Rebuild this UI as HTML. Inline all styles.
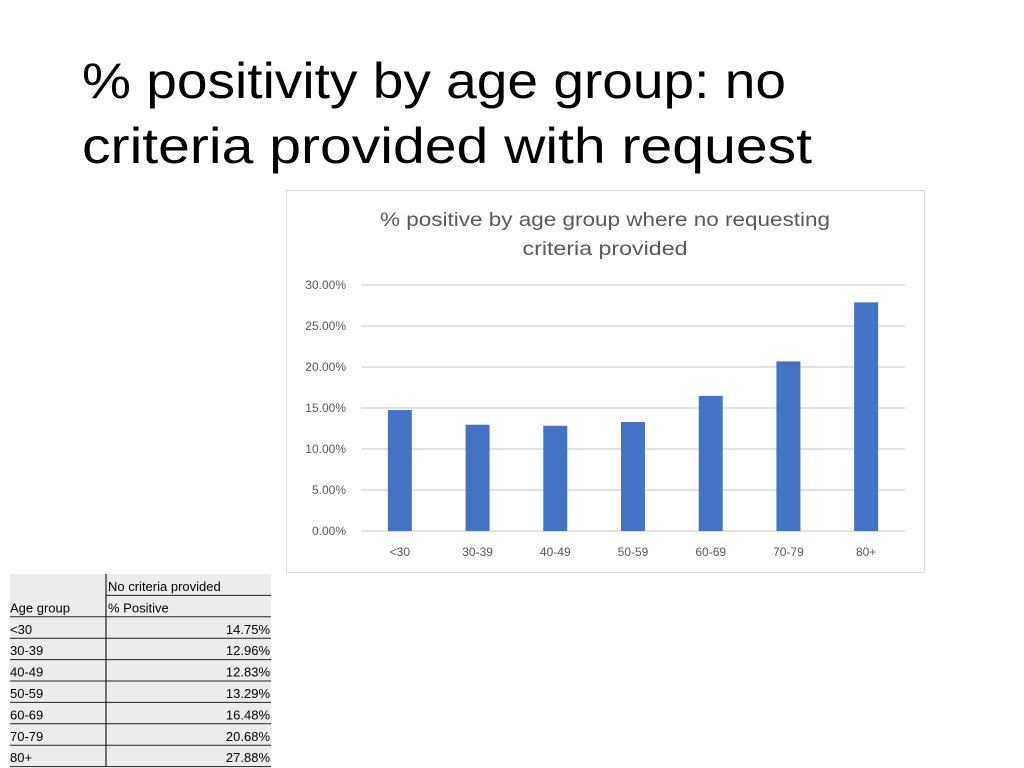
<!DOCTYPE html>
<html><head><meta charset="utf-8"><style>
html,body{margin:0;padding:0;background:#fff;}
svg{display:block;font-family:"Liberation Sans",sans-serif;}
</style></head><body>
<svg width="1024" height="768" viewBox="0 0 1024 768">
<g>
<text x="82" y="98" font-size="50" textLength="704" lengthAdjust="spacingAndGlyphs" fill="#000">% positivity by age group: no</text>
<text x="82" y="163" font-size="50" textLength="730" lengthAdjust="spacingAndGlyphs" fill="#000">criteria provided with request</text>
</g>
<rect x="286.5" y="190.5" width="638" height="382" fill="#fff" stroke="#d9d9d9"/>
<g fill="#595959" font-size="19" text-anchor="middle">
<text x="605" y="226" textLength="450" lengthAdjust="spacingAndGlyphs">% positive by age group where no requesting</text>
<text x="605" y="255" textLength="165" lengthAdjust="spacingAndGlyphs">criteria provided</text>
</g>
<g id="grid"></g>
<g id="yticks" fill="#595959" font-size="12" text-anchor="end"></g>
<g id="bars"></g>
<g id="xticks" fill="#595959" font-size="12" text-anchor="middle"></g>
<g id="table" font-size="13" fill="#000"></g>
</svg>
<script>
const categories = ["<30","30-39","40-49","50-59","60-69","70-79","80+"];
const values = [14.75,12.96,12.83,13.29,16.48,20.68,27.88];
const valueLabels = ["14.75%","12.96%","12.83%","13.29%","16.48%","20.68%","27.88%"];
const yTicks = [0,5,10,15,20,25,30];
const yTickLabels = ["0.00%","5.00%","10.00%","15.00%","20.00%","25.00%","30.00%"];
const NS="http://www.w3.org/2000/svg";
const px0=361, px1=905, py0=531, py1=285, yMax=30;
const yScale = v => py0 - (v/yMax)*(py0-py1);
const bw = (px1-px0)/categories.length;
const xScale = i => px0 + bw*(i+0.5);
function mk(tag, attrs, parent){const e=document.createElementNS(NS,tag);for(const k in attrs)e.setAttribute(k,attrs[k]);parent.appendChild(e);return e;}
const grid=document.getElementById('grid'), yt=document.getElementById('yticks'), bars=document.getElementById('bars'), xt=document.getElementById('xticks'), tbl=document.getElementById('table');
yTicks.forEach((t,i)=>{
  const l=mk('line',{x1:px0,x2:px1,y1:yScale(t),y2:yScale(t),stroke:'#d9d9d9','stroke-width':1.5},grid);
  
  
  const tx=mk('text',{x:346,y:yScale(t)+4},yt);
  tx.textContent=yTickLabels[i];
  
  
});
categories.forEach((c,i)=>{
  const r=mk('rect',{x:xScale(i)-12,y:yScale(values[i]),width:24,height:py0-yScale(values[i]),fill:'#4472c4'},bars);
  
  
  const tx=mk('text',{x:xScale(i),y:556},xt);
  tx.textContent=c;
  
  
});
mk('rect',{x:10,y:574,width:261,height:193,fill:'#ececee'},tbl);
const rh=21.4, tblTop=574;
const h1=mk('text',{x:108,y:tblTop+17},tbl); h1.textContent='No criteria provided';


const h2=mk('text',{x:10,y:tblTop+rh+17},tbl); h2.textContent='Age group';


const h3=mk('text',{x:108,y:tblTop+rh+17},tbl); h3.textContent='% Positive';


mk('line',{x1:106,x2:271,y1:tblTop+rh,y2:tblTop+rh,stroke:'#222','stroke-width':1},tbl);
for(let k=2;k<=9;k++){mk('line',{x1:10,x2:271,y1:tblTop+rh*k,y2:tblTop+rh*k,stroke:'#222','stroke-width':1},tbl);}
mk('line',{x1:106,x2:106,y1:tblTop,y2:767,stroke:'#222','stroke-width':1.2},tbl);
categories.forEach((c,i)=>{
  const yy=tblTop+rh*(i+2)+17;
  const a=mk('text',{x:10,y:yy},tbl); a.textContent=c;
  
  
  const b=mk('text',{x:270,y:yy,'text-anchor':'end'},tbl); b.textContent=valueLabels[i];
  
  
});
</script>
</body></html>
